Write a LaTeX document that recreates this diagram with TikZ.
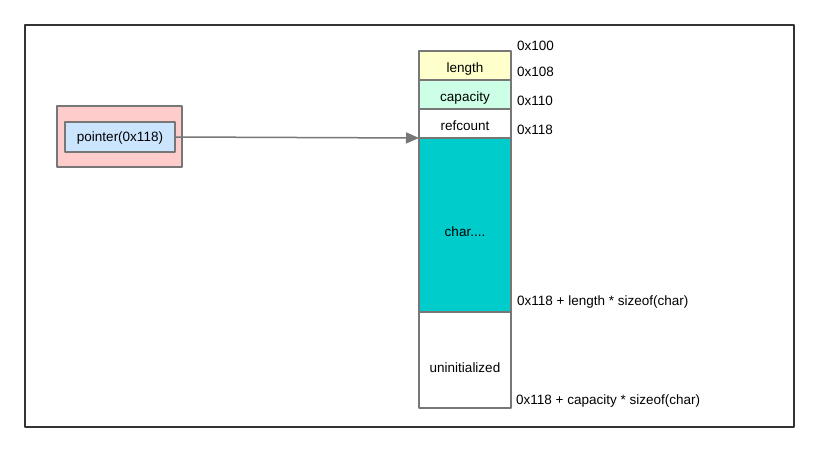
\documentclass[tikz,border=0pt]{standalone}
\usepackage{fontspec}
\setmainfont{Liberation Sans}
\usetikzlibrary{positioning,arrows.meta}
\definecolor{framegray}{HTML}{333333}
\definecolor{boxgray}{HTML}{777777}
\definecolor{lenyellow}{HTML}{FFFFCC}
\definecolor{capgreen}{HTML}{CCFFE6}
\definecolor{charcyan}{HTML}{00CCCC}
\definecolor{ptrpink}{HTML}{FFCCCC}
\definecolor{ptrblue}{HTML}{CCE5FF}
% baseline #1pt below the cell centre
\newcommand{\lowered}[2]{\raisebox{-#1pt}[0pt][0pt]{#2}}
\tikzset{
  cell/.style={draw=boxgray,line width=1.5pt,minimum width=92pt,inner sep=0pt,outer sep=0pt,font=\fontsize{13.5}{16}\selectfont},
  addr/.style={anchor=west,inner sep=0pt,font=\fontsize{13.5}{16}\selectfont}
}
\begin{document}
\begin{tikzpicture}[x=1pt,y=-1pt,>={Triangle[length=13pt,width=11pt]}, line join=round]
					\useasboundingbox (0,0) rectangle (819,452);
					\draw[framegray,line width=1.5pt] (25,25) rectangle (794,427);
					% pointer box
					\node[draw=boxgray,fill=ptrpink,line width=1.5pt,minimum width=125pt,minimum height=61pt] (outer) at (119.5,136.5) {};
					\node[cell,fill=ptrblue,minimum width=110pt,minimum height=30pt] (ptr) at (120,137) {\lowered{4.5}{pointer(0x118)}};
					% memory layout
					\node[cell,fill=lenyellow,minimum height=29pt] (len) at (465,65.5) {\lowered{7}{length}};
					\node[cell,fill=capgreen,minimum height=29pt,below=0pt of len] (cap) {\lowered{7}{capacity}};
					\node[cell,fill=white,minimum height=29pt,below=0pt of cap] (ref) {\lowered{7.3}{refcount}};
					\node[cell,fill=charcyan,minimum height=174pt,below=0pt of ref] (chars) {\lowered{11.3}{char....}};
					\node[cell,fill=white,minimum height=96pt,below=0pt of chars] (uninit) {\lowered{12.8}{uninitialized}};
					% addresses
					\node[addr] (a100) at (517,46) {0x100};
					\node[addr] (a108) at (517,72) {0x108};
					\node[addr] (a110) at (517,101) {0x110};
					\node[addr] (a118) at (517,130) {0x118};
					\node[addr] (alen) at (517,302) {0x118 + length * sizeof(char)};
					\node[addr] (acap) at (516,401) {0x118 + capacity * sizeof(char)};
					\draw[->,boxgray,line width=1.5pt] (ptr.east) -- (ref.south west);
			\end{tikzpicture}
\end{document}
